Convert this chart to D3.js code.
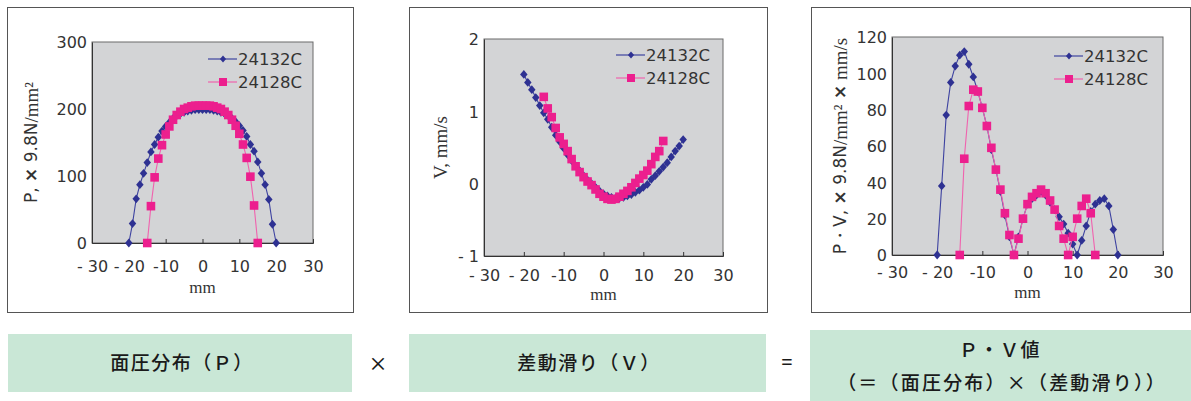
<!DOCTYPE html>
<html>
<head>
<meta charset="utf-8">
<script src="https://cdn.jsdelivr.net/npm/d3@7"></script>
<style>
  html, body { margin: 0; padding: 0; background: #fff; }
  svg { display: block; }
</style>
</head>
<body>
<svg id="chart" width="1191" height="401"></svg>
<script>
// Contact position along the raceway, mm
const xBlue = [-20,-19,-18,-17,-16,-15,-14,-13,-12,-11,-10,-9,-8,-7,-6,-5,-4,-3,-2,-1,0,1,2,3,4,5,6,7,8,9,10,11,12,13,14,15,16,17,18,19,20];
const xPink = [-15,-14,-13,-12,-11,-10,-9,-8,-7,-6,-5,-4,-3,-2,-1,0,1,2,3,4,5,6,7,8,9,10,11,12,13,14,15];

const seriesNames = ["24132C", "24128C"];

// Contact pressure P (x9.8 N/mm2)
const pBlue = [0,29,66,87,104,120,136,147,158,167,174,180,186,190,193,195,197,198,199,199,199,199,199,198,197,195,193,190,186,181,175,168,159,147,137,121,104,87,65,28,0];
const pPink = [0,55,98,126,146,162,174,184,191,196,200,202,204,205,205,205,205,205,204,202,200,196,191,184,175,163,147,127,99,56,0];

// Differential slip V (mm/s)
const vBlue = [1.51,1.40,1.30,1.19,1.08,0.98,0.89,0.78,0.67,0.58,0.49,0.40,0.32,0.25,0.18,0.11,0.05,0.00,-0.05,-0.10,-0.14,-0.17,-0.19,-0.20,-0.20,-0.19,-0.17,-0.15,-0.12,-0.09,-0.05,-0.01,0.06,0.11,0.17,0.23,0.29,0.37,0.45,0.52,0.61];
const vPink = [1.20,1.04,0.92,0.77,0.64,0.55,0.45,0.34,0.24,0.16,0.09,0.03,-0.02,-0.08,-0.14,-0.18,-0.21,-0.22,-0.21,-0.18,-0.14,-0.10,-0.05,0.01,0.07,0.12,0.18,0.27,0.37,0.45,0.59];

// PV value
const pvBlue = [0,38,77,95,104,110,112,105,98,90,81,71,58,47,35,22,10,0,10,20,28,31,33,35,33,29,25,21,17,12,6,0,8,16,24,28,30,31,27,14,0];
const pvPink = [0,53,82,91,90,81,71,59,47,36,23,11,0,9,20,28,32,34,36,34,30,25,16,9,0,10,20,27,31,23,0];

// Tick values and labels
const xTicks = [-30,-20,-10,0,10,20,30];
const xTickLabels = ["- 30","- 20","-10","0","10","20","30"];
const pTicks = [0,100,200,300];
const pTickLabels = ["0","100","200","300"];
const vTicks = [-1,0,1,2];
const vTickLabels = ["- 1","0","1","2"];
const pvTicks = [0,20,40,60,80,100,120];
const pvTickLabels = ["0","20","40","60","80","100","120"];

// Captions under the charts
const captionP = "面圧分布（Ｐ）";
const captionV = "差動滑り（Ｖ）";
const captionPV1 = "Ｐ・Ｖ値";
const captionPV2 = "（＝（面圧分布）×（差動滑り））";

const BLUE = "#2e3192";
const BLUE_LINE = "#3d42a0";
const PINK = "#ec1f8e";
const PINK_LINE = "#f062ae";
const SANS = "'DejaVu Sans', sans-serif";
const SERIF = "'Liberation Serif', 'DejaVu Serif', serif";

const svg = d3.select("#chart");

const charts = [
  {
    frame: {x: 7.5, y: 7.5, w: 346, h: 305},
    plot: {x: 92, y: 42, w: 221, h: 201},
    yDomain: [0, 300], yTicks: pTicks, yLabels: pTickLabels,
    blue: pBlue, pink: pPink,
    xLabelDy: 29, xTitleY: 293,
    titleX: 31,
    title: [{t: "P, ", f: SANS}, {t: "×", f: SANS, b: true}, {t: " 9.8N", f: SANS}, {t: "/mm²", f: SERIF}],
    legend: {x: 208, y: 59}
  },
  {
    frame: {x: 409.5, y: 7.5, w: 358, h: 305},
    plot: {x: 484, y: 39, w: 239, h: 217},
    yDomain: [-1, 2], yTicks: vTicks, yLabels: vTickLabels,
    blue: vBlue, pink: vPink,
    xLabelDy: 25, xTitleY: 300,
    titleX: 440,
    title: [{t: "V, mm/s", f: SERIF}],
    legend: {x: 616, y: 55}
  },
  {
    frame: {x: 811.5, y: 7.5, w: 379, h: 305},
    plot: {x: 892, y: 37, w: 271, h: 218},
    yDomain: [0, 120], yTicks: pvTicks, yLabels: pvTickLabels,
    blue: pvBlue, pink: pvPink,
    xLabelDy: 23, xTitleY: 298,
    titleX: 840,
    title: [{t: "P・V, ", f: SANS}, {t: "×", f: SANS, b: true}, {t: " 9.8N", f: SANS}, {t: "/mm²", f: SERIF}, {t: " ", f: SANS}, {t: "×", f: SANS, b: true}, {t: " mm/s", f: SERIF}],
    legend: {x: 1054, y: 56}
  }
];

function drawDiamond(g, cx, cy, r) {
  g.append("path")
    .attr("d", `M${cx},${cy - r}L${cx + r * 0.85},${cy}L${cx},${cy + r}L${cx - r * 0.85},${cy}Z`)
    .attr("fill", BLUE);
}

charts.forEach(c => {
  const g = svg.append("g");

  // outer frame
  g.append("rect")
    .attr("x", c.frame.x).attr("y", c.frame.y)
    .attr("width", c.frame.w).attr("height", c.frame.h)
    .attr("fill", "#fff").attr("stroke", "#555").attr("stroke-width", 1);

  const x = d3.scaleLinear().domain([-30, 30]).range([c.plot.x, c.plot.x + c.plot.w]);
  const y = d3.scaleLinear().domain(c.yDomain).range([c.plot.y + c.plot.h, c.plot.y]);

  // plot area
  g.append("rect")
    .attr("x", c.plot.x).attr("y", c.plot.y)
    .attr("width", c.plot.w).attr("height", c.plot.h)
    .attr("fill", "#d3d4d6").attr("stroke", "#6a6a6a").attr("stroke-width", 1);

  // x axis (ticks pointing into the plot)
  const xa = g.append("g")
    .attr("transform", `translate(0,${c.plot.y + c.plot.h})`)
    .call(d3.axisBottom(x).tickValues(xTicks).tickSize(-4)
      .tickFormat((d, i) => xTickLabels[i]));
  xa.select(".domain").attr("stroke", "#333");
  xa.selectAll(".tick line").attr("stroke", "#333");
  xa.selectAll(".tick text")
    .attr("y", c.xLabelDy).attr("dy", 0)
    .attr("font-family", SANS).attr("font-size", 16).attr("fill", "#333");

  // y axis
  const ya = g.append("g")
    .attr("transform", `translate(${c.plot.x},0)`)
    .call(d3.axisLeft(y).tickValues(c.yTicks).tickSize(0)
      .tickFormat((d, i) => c.yLabels[i]));
  ya.select(".domain").attr("stroke", "#333");
  ya.selectAll(".tick text")
    .attr("x", -5).attr("dy", "0.36em")
    .attr("font-family", SANS).attr("font-size", 16).attr("fill", "#333");

  // axis titles
  g.append("text")
    .attr("x", c.plot.x + c.plot.w / 2).attr("y", c.xTitleY)
    .attr("text-anchor", "middle")
    .attr("font-family", SERIF).attr("font-size", 17).attr("fill", "#333")
    .text("mm");

  const cy = c.plot.y + c.plot.h / 2;
  const tt = g.append("text")
    .attr("transform", `translate(${c.titleX},${cy}) rotate(-90)`)
    .attr("text-anchor", "middle")
    .attr("dominant-baseline", "central")
    .attr("font-size", 17).attr("fill", "#333");
  c.title.forEach(p => {
    tt.append("tspan")
      .attr("font-family", p.f)
      .attr("font-weight", p.b ? "bold" : null)
      .attr("font-size", p.f === SERIF ? 19 : 17)
      .text(p.t);
  });

  // series lines and markers
  const line = d3.line().x(d => x(d[0])).y(d => y(d[1]));
  const blueData = xBlue.map((v, i) => [v, c.blue[i]]);
  const pinkData = xPink.map((v, i) => [v, c.pink[i]]);

  g.append("path").datum(blueData).attr("d", line)
    .attr("fill", "none").attr("stroke", BLUE_LINE).attr("stroke-width", 1.1);
  blueData.forEach(d => drawDiamond(g, x(d[0]), y(d[1]), 4.4));

  g.append("path").datum(pinkData).attr("d", line)
    .attr("fill", "none").attr("stroke", PINK_LINE).attr("stroke-width", 1.1);
  g.selectAll(null).data(pinkData).enter().append("rect")
    .attr("x", d => x(d[0]) - 4.3).attr("y", d => y(d[1]) - 4.3)
    .attr("width", 8.6).attr("height", 8.6)
    .attr("fill", PINK);

  // legend
  const L = c.legend;
  [0, 1].forEach(k => {
    const ly = L.y + k * 23;
    g.append("line")
      .attr("x1", L.x).attr("x2", L.x + 29).attr("y1", ly).attr("y2", ly)
      .attr("stroke", k === 0 ? BLUE_LINE : PINK_LINE).attr("stroke-width", 1.2);
    if (k === 0) {
      drawDiamond(g, L.x + 15, ly, 3.6);
    } else {
      g.append("rect").attr("x", L.x + 11).attr("y", ly - 4)
        .attr("width", 8).attr("height", 8).attr("fill", PINK);
    }
    g.append("text")
      .attr("x", L.x + 30).attr("y", ly).attr("dy", "0.36em")
      .attr("font-family", SANS).attr("font-size", 16.5).attr("fill", "#333")
      .text(seriesNames[k]);
  });
});

// caption boxes below the charts
const CJK = "'Noto Sans CJK JP', sans-serif";
const GREEN = "#c9e7d6";
const boxes = [
  {x: 8, y: 334, w: 344, h: 58},
  {x: 409, y: 334, w: 357, h: 58},
  {x: 810, y: 330, w: 381, h: 71}
];
boxes.forEach(b => {
  svg.append("rect").attr("x", b.x).attr("y", b.y)
    .attr("width", b.w).attr("height", b.h).attr("fill", GREEN);
});

function caption(txt, cx, cy, spacing) {
  svg.append("text")
    .attr("x", cx).attr("y", cy).attr("dy", "0.35em")
    .attr("text-anchor", "middle")
    .attr("font-family", CJK).attr("font-size", 19)
    .attr("font-weight", 500)
    .attr("letter-spacing", spacing)
    .attr("fill", "#1a1a1a")
    .text(txt);
}
caption(captionP, 182, 363, 1.5);
caption(captionV, 589, 363, 1.5);
caption(captionPV1, 1000, 350, 1.5);
caption(captionPV2, 1002, 383, 2.2);
caption("×", 378, 364, 0);
caption("=", 787, 362, 0);
</script>
</body>
</html>
